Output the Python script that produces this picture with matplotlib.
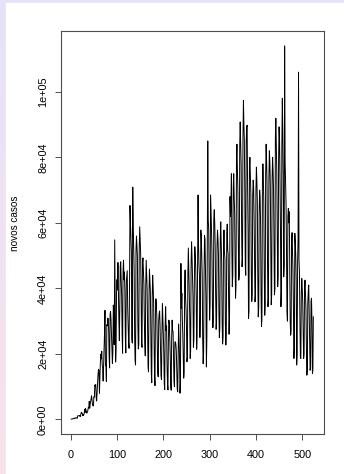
import numpy as np
import matplotlib
matplotlib.use('Agg')
import matplotlib.pyplot as plt
from matplotlib.patches import Rectangle

# novos casos por dia (milhares)
casos_mar_jul_2020 = [
    0.1, 0.1, 0.1, 0.2, 0.2, 0.3, 0.4,
    0.3, 0.2, 0.5, 0.5, 0.5, 0.4, 0.3,
    1.1, 1.1, 1.1, 1.1, 1.2, 0.9, 0.9,
    1.7, 2.2, 1.9, 1.8, 1.1, 1.4, 1.3,
    1.8, 3.1, 2.1, 3.3, 2.9, 2.1, 1.9,
    2.5, 2.7, 3.7, 3.5, 5.5, 3.4, 4.6,
    5.4, 6.3, 7.2, 6.0, 4.6, 4.1, 4.1,
    6.9, 6.8, 10.5, 10.2, 10.6, 6.6, 5.6,
    8.6, 11.4, 13.9, 15.3, 15.0, 7.9, 13.1,
    17.4, 19.9, 18.5, 20.8, 16.5, 15.8, 11.7,
    16.3, 20.6, 26.4, 33.3, 16.4, 16.4, 11.6,
    28.9, 28.6, 30.9, 30.8, 27.1, 18.9, 15.7,
    32.1, 32.9, 30.4, 25.9, 21.7, 17.1, 20.6,
    34.9, 32.2, 22.8, 54.8, 34.7, 17.5, 21.4,
    39.4, 42.7, 39.5, 47.9, 38.7, 30.5, 24.1,
    33.8, 46.7, 48.1, 42.2, 37.9, 26.1, 20.2,
    45.3, 48.6, 42.6, 45.0, 39.0, 24.8, 20.3,
    41.9, 43.5, 45.4, 34.2, 28.5, 23.5, 21.7,
    41.0, 65.3, 59.9, 55.9, 51.1, 24.6, 23.3,
]
casos_jul_dez_2020 = [
    70.9, 57.8, 52.4, 45.4, 25.8, 18.0, 16.6,
    51.6, 56.0, 53.1, 49.9, 29.1, 21.5, 23.0,
    52.2, 58.8, 54.2, 50.6, 38.9, 23.1, 22.0,
    47.8, 49.3, 45.3, 41.2, 30.4, 23.4, 19.4,
    40.4, 48.6, 44.1, 39.8, 26.5, 16.2, 14.5,
    36.8, 45.9, 42.7, 39.0, 26.9, 14.3, 11.2,
    37.5, 44.0, 40.6, 35.8, 24.1, 13.4, 10.3,
    33.5, 36.8, 35.0, 31.0, 22.0, 14.0, 13.0,
    30.1, 32.3, 33.1, 28.4, 21.5, 13.3, 12.1,
    26.4, 35.4, 31.1, 26.0, 20.2, 11.0, 9.1,
    28.8, 34.4, 27.2, 28.5, 16.7, 10.7, 9.0,
    25.1, 30.3, 29.2, 24.0, 19.2, 10.2, 8.9,
    24.8, 30.3, 27.0, 26.9, 18.3, 11.7, 10.0,
    23.5, 23.7, 23.0, 21.0, 14.9, 9.3, 8.4,
    20.1, 29.1, 24.6, 18.6, 8.0, 11.2, 47.6,
    33.9, 38.5, 30.9, 26.2, 19.0, 12.6, 14.5,
    40.8, 45.6, 37.0, 33.9, 28.0, 17.6, 19.0,
    44.0, 52.3, 45.5, 39.7, 31.9, 18.6, 21.0,
    47.7, 54.2, 49.5, 43.3, 37.6, 22.0, 24.4,
]
casos_dez_2020_abr_2021 = [
    41.6, 52.7, 50.0, 46.0, 37.4, 21.4, 26.0,
    49.9, 68.5, 53.4, 47.3, 44.0, 25.0, 33.0,
    57.8, 55.9, 49.2, 43.6, 24.6, 17.0, 20.5,
    45.0, 56.1, 55.0, 44.8, 36.0, 16.0, 24.6,
    56.6, 85.0, 61.0, 57.8, 42.0, 30.3, 35.0,
    68.5, 64.0, 58.3, 51.0, 34.6, 28.0, 31.1,
    61.2, 64.0, 60.0, 52.5, 38.0, 27.5, 30.0,
    53.0, 57.8, 55.0, 50.7, 33.0, 25.0, 28.0,
    55.0, 60.3, 54.3, 48.0, 30.0, 23.0, 25.0,
    52.5, 57.8, 51.0, 49.1, 29.2, 22.7, 26.3,
    56.4, 59.6, 51.9, 50.4, 36.0, 26.0, 32.0,
    68.0, 62.0, 66.0, 75.0, 52.0, 40.5, 44.0,
    70.8, 75.0, 68.1, 63.0, 48.0, 37.0, 41.0,
    79.8, 84.0, 76.0, 70.0, 54.0, 42.5, 44.0,
    84.0, 90.8, 85.0, 78.0, 60.0, 46.6, 49.0,
    86.0, 97.4, 90.0, 85.0, 69.0, 47.0, 44.0,
    84.5, 89.3, 89.8, 71.0, 58.0, 30.8, 33.0,
    77.0, 80.0, 74.0, 69.0, 45.0, 36.0, 39.0,
]
casos_abr_ago_2021 = [
    68.0, 73.0, 71.0, 62.0, 48.0, 35.9, 38.0,
    70.0, 77.0, 73.0, 67.0, 44.0, 31.3, 34.0,
    63.0, 70.0, 68.0, 60.0, 39.0, 28.3, 31.0,
    72.0, 78.0, 74.0, 66.0, 45.0, 31.8, 35.0,
    75.0, 84.0, 79.0, 72.0, 48.0, 34.4, 37.0,
    73.0, 82.0, 79.0, 72.0, 52.0, 35.0, 38.0,
    74.0, 80.0, 76.0, 70.0, 53.0, 38.0, 40.0,
    86.0, 91.9, 84.0, 76.0, 57.0, 40.5, 44.0,
    80.0, 89.3, 85.0, 73.0, 58.0, 34.4, 39.0,
    84.0, 98.0, 88.0, 74.0, 43.5, 47.0, 114.0,
    79.0, 73.0, 66.0, 52.0, 33.0, 30.0, 62.0,
    64.4, 60.0, 63.4, 47.0, 30.0, 25.7, 27.0,
    54.0, 57.0, 51.0, 45.0, 34.0, 18.6, 22.0,
    56.8, 54.0, 50.0, 42.0, 16.6, 20.0, 48.0,
    55.0, 106.0, 48.6, 45.0, 30.0, 19.0, 18.6,
    38.0, 43.0, 40.0, 36.0, 28.0, 18.6, 20.0,
    40.0, 42.5, 38.0, 34.0, 22.0, 13.5, 15.0,
    35.4, 39.0, 41.0, 33.0, 24.0, 15.0, 16.0,
    36.0, 37.0, 30.0, 14.0, 15.0, 31.3,
]

y_ticks = [0, 20000, 40000, 60000, 80000, 100000]
y_tick_labels = ['0e+00', '2e+04', '4e+04', '6e+04', '8e+04', '1e+05']
x_ticks = [0, 100, 200, 300, 400, 500]

casos = np.array(casos_mar_jul_2020 + casos_jul_dez_2020 +
                 casos_dez_2020_abr_2021 + casos_abr_ago_2021) * 1000
dias = np.arange(1, len(casos) + 1)

W, H = 344, 474
fig = plt.figure(figsize=(W / 100, H / 100), dpi=100)
fig.patch.set_facecolor('white')

# faixa colorida da captura de tela (esquerda e topo)
bg = fig.add_axes([0, 0, 1, 1], zorder=-1)
grad = np.linspace(0, 1, 256)[:, None, None]
top_c = np.array([0.90, 0.89, 0.97])
bot_c = np.array([0.97, 0.89, 0.92])
img = top_c * (1 - grad) + bot_c * grad
bg.imshow(np.repeat(img, 2, axis=1), extent=[0, W, H, 0], aspect='auto')
bg.add_patch(Rectangle((6, 3), W - 6, H - 3, color='white'))
bg.set_xlim(0, W)
bg.set_ylim(H, 0)
bg.axis('off')

L, R, T, B = 61, 324, 31, 434
ax = fig.add_axes([L / W, (H - B) / H, (R - L) / W, (B - T) / H])
ax.plot(dias, casos, color='black', lw=0.7)

ax.set_xlim(-21, 547)
rng = casos.max() - casos.min()
ax.set_ylim(casos.min() - 0.04 * rng, casos.max() + 0.04 * rng)

fonte = 'Liberation Sans'
ax.set_xticks(x_ticks)
ax.set_xticklabels([str(t) for t in x_ticks], fontsize=7.8, family=fonte)
ax.set_yticks(y_ticks)
ax.set_yticklabels(y_tick_labels, fontsize=7.8, family=fonte,
                   rotation=90, va='center')
ax.tick_params(axis='x', length=4.3, width=0.6, pad=7, color='0.2')
ax.tick_params(axis='y', length=4.3, width=0.6, pad=5, color='0.2')
for s in ax.spines.values():
    s.set_linewidth(0.8)
    s.set_color('0.3')

fig.text(15 / W, 1 - 223 / H, 'novos casos', rotation=90, fontsize=7.2,
         family=fonte, ha='center', va='center')

fig.savefig('out.png', dpi=100)
